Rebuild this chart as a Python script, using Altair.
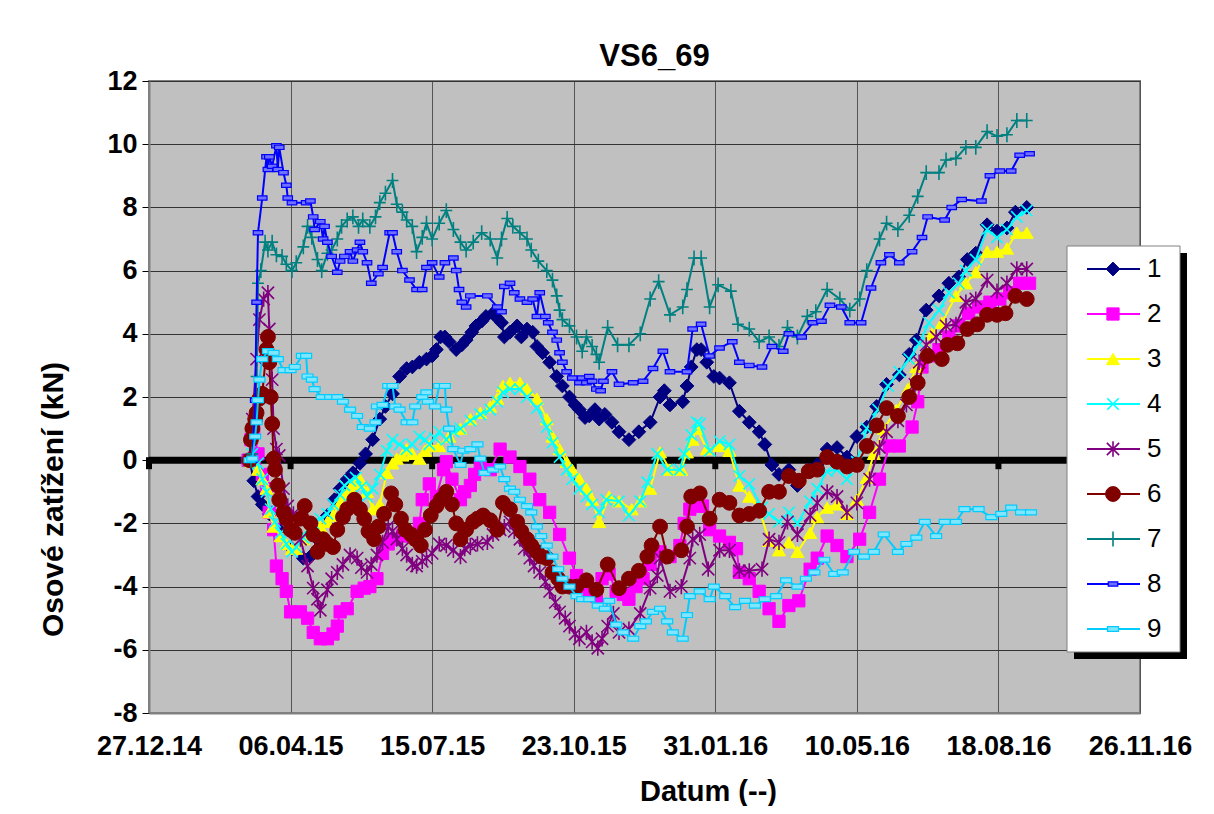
import altair as alt
import pandas as pd

FONT = "Liberation Sans"

SERIES = ["1", "2", "3", "4", "5", "6", "7", "8", "9"]
X_TICK_DAYS = [0, 100, 200, 300, 400, 500, 600, 700]          # days after 27.12.14
X_LABELS = ["27.12.14", "06.04.15", "15.07.15", "23.10.15", "31.01.16", "10.05.16", "18.08.16", "26.11.16"]
Y_TICKS = [-8, -6, -4, -2, 0, 2, 4, 6, 8, 10, 12]

# ---- series data: day = days after 27.12.2014, value in kN ----
S1_DAY = [71,74,77,80,85,92,101,109,114,119,126,131,135,140,144,149,153,158,163,167,172,177,182,186,191,196,200,203,206,209,212,217,221,224,228,231,235,238,243,246,249,251,255,260,263,267,271,274,278,283,288,292,297,301,304,308,311,315,318,322,327,332,339,346,354,361,364,368,377,380,383,387,390,394,399,403,410,417,424,431,435,440,445,452,458,466,472,479,486,493,500,507,514,521,530,537,542,549,558,565,572,578,584,592,599,606,612,620]
S1_VAL = [0,-0.65,-1.15,-1.4,-1.7,-2.2,-2.8,-3.1,-3.05,-2.5,-1.75,-1.25,-0.9,-0.6,-0.4,-0.1,0.2,0.65,1.3,1.7,2.1,2.65,2.9,2.95,3.1,3.2,3.3,3.5,3.9,3.9,3.75,3.5,3.65,3.8,4.05,4.25,4.4,4.55,4.65,4.5,4.35,3.9,4.05,4.25,3.9,4.15,4.05,3.6,3.4,3.1,2.65,2.35,2.0,1.75,1.6,1.35,1.4,1.6,1.3,1.45,1.2,0.9,0.65,0.9,1.2,2.0,2.2,1.75,1.85,2.35,2.95,3.5,3.5,3.1,2.65,2.6,2.45,1.55,1.2,0.9,0.5,-0.15,-0.45,-0.3,-0.8,-0.3,-0.15,0.35,0.4,0.1,0.75,1.05,1.7,2.4,2.7,3.35,3.8,4.75,5.2,5.6,5.8,6.35,6.55,7.45,7.25,7.35,7.85,8.0]

S2_DAY = [70,72,74,77,80,83,85,88,90,94,97,100,107,112,116,121,126,130,133,135,140,147,152,156,161,165,169,172,179,186,191,193,198,203,208,210,214,220,223,227,230,234,241,248,255,262,269,276,283,290,297,302,306,311,316,320,325,330,335,339,344,349,354,361,368,375,378,382,387,391,396,403,410,415,417,424,431,438,445,452,459,467,472,479,486,493,502,509,516,523,530,539,543,546,551,558,565,572,579,586,594,601,608,615,622]
S2_VAL = [0,0.65,0.9,0.2,-0.45,-0.9,-1.65,-2.2,-3.35,-3.75,-4.15,-4.8,-4.8,-5.0,-5.45,-5.65,-5.65,-5.5,-5.25,-4.8,-4.7,-4.15,-4.05,-4.0,-3.75,-2.95,-2.65,-2.5,-2.4,-2.4,-2.0,-1.25,-0.75,-1.15,-0.3,-0.05,-0.6,-1.25,-1.0,-0.8,-0.45,-0.2,-0.3,0.35,0.1,-0.2,-0.6,-1.25,-1.65,-2.35,-3.1,-3.65,-4.0,-4.25,-4.3,-3.75,-3.6,-4.15,-4.25,-4.4,-4.0,-3.75,-3.3,-2.9,-3.05,-2.7,-2.0,-1.55,-1.45,-1.45,-2.2,-2.4,-2.6,-2.8,-3.55,-3.75,-4.15,-4.7,-5.1,-4.6,-4.45,-3.45,-3.1,-2.4,-2.7,-3.05,-2.5,-1.65,-0.6,0.45,0.45,1.05,1.85,2.95,3.3,3.5,3.9,4.25,4.65,4.85,5.0,5.1,5.3,5.6,5.6]

S3_DAY = [71,73,77,80,83,85,88,93,97,101,104,109,112,116,121,126,130,135,138,142,145,149,154,158,163,168,172,175,179,182,186,191,195,198,205,212,220,227,234,241,246,250,255,262,267,274,281,285,290,295,299,304,309,313,318,325,332,341,347,354,361,368,376,380,384,387,394,403,410,417,424,431,438,445,452,458,467,472,479,486,493,500,507,512,519,528,536,542,549,553,560,570,577,584,592,599,606,613,620]
S3_VAL = [0,-0.05,-0.3,-0.6,-0.9,-1.65,-2.1,-2.4,-2.65,-2.8,-2.8,-2.5,-2.3,-2.2,-2.1,-1.95,-1.75,-1.35,-1.1,-0.9,-0.75,-0.6,-1.0,-1.55,-1.4,-0.4,-0.1,0.05,0.15,0.35,0.2,0.05,0.3,0.45,0.45,0.75,1.0,1.3,1.5,1.7,1.95,2.35,2.45,2.45,2.25,1.95,1.3,0.75,0.35,-0.05,-0.3,-0.6,-0.9,-1.25,-1.95,-1.15,-1.3,-1.55,-1.3,-0.9,0.25,-0.3,-0.3,0.25,0.65,1.0,0.35,0.45,0.3,-0.8,-1.15,-1.55,-2.55,-2.85,-2.6,-2.9,-2.3,-1.8,-1.5,-1.4,-1.7,-1.25,-0.55,0.2,1.0,1.6,2.25,2.95,3.45,4.0,4.35,5.2,5.6,5.95,6.6,6.6,6.7,7.2,7.2]

S4_DAY = [71,73,77,80,83,86,89,93,97,101,104,109,112,116,121,126,130,135,138,142,146,150,154,158,163,168,172,177,182,186,191,195,198,202,205,210,215,220,227,234,241,246,250,255,262,267,274,281,285,290,295,299,304,309,313,318,323,332,339,347,352,359,366,375,378,383,387,389,396,403,410,417,424,433,438,445,452,458,467,472,479,486,493,500,507,515,522,530,537,544,551,558,565,572,577,584,592,599,606,613,620]
S4_VAL = [0,0.2,-0.1,-0.6,-1.0,-1.55,-1.95,-2.3,-2.65,-2.9,-2.75,-2.45,-2.2,-2.0,-1.85,-1.7,-1.4,-1.1,-0.8,-0.65,-0.55,-0.85,-1.15,-0.9,-0.45,0.3,0.65,0.5,0.35,0.5,0.75,0.65,0.5,0.7,0.9,0.65,0.9,1.0,1.25,1.45,1.6,1.85,2.15,2.25,2.25,2.0,1.65,1.05,0.55,0.1,-0.3,-0.6,-0.9,-1.15,-1.4,-1.65,-1.25,-1.3,-1.75,-1.3,-0.7,0.2,-0.3,-0.3,0.2,0.8,1.2,1.15,0.3,0.6,0.5,-0.5,-0.75,-1.5,-1.7,-1.95,-1.65,-2.0,-1.3,-0.9,-0.35,-0.3,-0.6,-0.05,1.0,1.6,2.35,2.8,3.2,3.7,4.35,4.75,5.3,5.6,6.0,6.35,7.3,7.05,7.3,7.7,7.9]

S5_DAY = [71,73,76,78,81,84,85,87,88,90,92,95,98,102,107,112,116,119,121,126,129,133,137,142,147,150,154,157,161,165,169,172,175,179,182,186,189,193,196,200,205,210,215,220,223,227,232,239,243,248,251,255,258,262,265,269,272,276,280,283,287,290,294,297,301,304,309,313,317,320,324,328,332,339,347,354,359,361,368,376,382,384,389,395,403,410,417,424,433,438,445,451,458,467,472,479,486,493,500,509,516,521,529,535,541,544,549,556,563,570,577,584,592,599,606,613,620]
S5_VAL = [0,1.3,3.2,4.45,5.1,5.3,4.15,2.55,1.0,0.35,0.15,-0.9,-1.45,-1.7,-2.5,-3.35,-4.05,-4.4,-4.75,-4.1,-3.75,-3.55,-3.3,-3.0,-3.1,-3.4,-3.55,-3.3,-3.0,-2.6,-2.1,-2.25,-2.5,-2.8,-3.0,-3.3,-3.35,-3.2,-3.1,-2.95,-2.65,-2.7,-2.85,-3.05,-2.8,-2.7,-2.65,-2.6,-2.35,-2.2,-2.1,-1.95,-2.25,-2.5,-2.8,-3.1,-3.35,-3.55,-3.85,-4.15,-4.5,-4.8,-5.0,-5.25,-5.5,-5.65,-5.45,-5.75,-5.95,-5.65,-5.25,-4.85,-5.45,-5.35,-4.85,-4.05,-3.65,-3.1,-4.15,-4.0,-3.1,-2.5,-2.35,-3.45,-2.85,-2.85,-3.5,-3.5,-3.45,-2.5,-2.6,-1.95,-2.35,-1.75,-1.35,-1.0,-1.15,-1.65,-1.35,-0.6,0.4,0.9,1.25,1.75,2.4,3.1,3.65,3.9,4.25,4.3,5.0,5.1,5.7,5.35,5.6,6.05,6.05]

S6_DAY = [71,72,73,75,76,78,80,83,84,85,86,87,88,89,91,92,95,97,100,103,107,110,114,116,119,123,126,130,133,137,140,145,149,152,155,159,162,166,171,174,178,181,185,188,192,195,199,203,206,210,214,217,220,224,229,232,236,241,246,250,255,260,263,267,270,274,277,281,285,289,292,297,302,309,316,324,332,339,346,352,355,361,366,376,380,383,389,396,403,410,417,424,431,438,445,452,459,466,472,479,486,493,500,507,514,521,529,537,543,550,560,564,571,578,585,592,599,605,612,620]
S6_VAL = [0,0.65,1.0,1.3,1.5,1.95,2.1,3.5,3.9,3.1,2.0,1.15,0.05,-0.3,-0.8,-1.25,-1.65,-1.85,-2.2,-2.3,-1.85,-1.45,-2.0,-2.35,-2.9,-2.5,-2.65,-2.75,-2.2,-1.8,-1.55,-1.25,-1.55,-1.85,-2.25,-2.5,-2.1,-1.7,-1.05,-1.4,-1.85,-2.2,-2.35,-2.5,-2.7,-2.2,-1.75,-1.45,-1.25,-1.0,-1.4,-2.0,-2.5,-2.2,-1.95,-1.85,-1.75,-1.9,-2.2,-1.35,-1.55,-1.95,-2.25,-2.5,-2.7,-2.9,-3.05,-3.1,-3.55,-3.75,-4.0,-4.0,-4.0,-3.8,-4.1,-3.3,-4.05,-3.75,-3.5,-3.05,-2.7,-2.1,-3.05,-2.85,-2.1,-1.15,-1.05,-1.85,-1.25,-1.35,-1.75,-1.7,-1.6,-1.0,-1.0,-0.5,-0.65,-0.35,-0.3,0.1,-0.05,-0.2,-0.15,0.45,1.1,1.65,1.4,2.0,2.45,3.3,3.2,3.65,3.7,4.15,4.3,4.6,4.6,4.65,5.2,5.1]

S7_DAY = [72,73,76,77,79,82,84,87,90,94,97,101,104,109,112,115,119,122,126,129,133,136,140,144,148,151,156,160,163,167,172,175,179,182,186,189,193,196,200,205,210,215,220,224,229,235,241,246,249,253,257,262,267,270,275,281,285,288,290,292,297,302,306,309,313,316,318,324,331,339,347,354,360,368,377,380,385,390,396,402,411,416,424,431,438,445,451,458,465,471,479,488,495,502,507,516,521,529,537,543,549,558,563,570,577,584,592,599,606,613,620]
S7_VAL = [0,0.2,2.65,5.6,6.0,6.9,6.65,6.9,6.5,6.45,6.2,6.0,6.25,6.75,7.4,7.05,6.35,6.0,6.55,6.65,7.0,7.4,7.6,7.7,7.4,7.6,7.4,7.7,8.15,8.45,8.85,8.1,7.85,7.6,7.4,6.6,7.05,7.5,7.0,7.5,7.9,7.3,6.9,6.65,6.9,7.2,7.0,6.4,7.0,7.65,7.4,7.2,7.0,6.65,6.3,6.0,5.7,5.2,4.75,4.45,4.25,3.9,3.45,3.9,3.6,3.35,3.1,4.2,3.65,3.65,4.0,5.1,5.65,4.6,4.85,5.4,6.4,6.4,4.85,5.55,5.35,4.3,4.15,3.75,3.9,3.6,4.2,3.9,4.55,4.7,5.4,5.1,4.75,5.1,6.0,7.0,7.5,7.3,7.75,8.35,9.1,9.1,9.5,9.55,9.9,9.9,10.4,10.25,10.3,10.75,10.75]

S8_DAY = [73,75,76,77,80,83,84,85,87,90,91,92,95,97,98,101,111,114,116,117,121,123,124,126,129,133,135,138,142,144,147,149,151,154,157,162,165,170,172,175,179,184,189,193,196,200,205,209,215,217,219,221,224,227,239,246,249,251,255,258,262,267,271,274,276,280,282,285,288,290,292,295,299,304,306,309,311,313,316,319,321,327,332,342,349,356,363,368,380,384,390,396,403,412,417,424,433,440,448,452,461,469,475,481,489,495,503,510,517,523,530,539,546,550,562,567,574,588,594,601,609,615,622]
S8_VAL = [0,1.9,5.0,7.2,8.3,9.6,9.2,9.6,9.3,9.95,9.2,9.9,9.1,8.7,8.3,8.15,8.15,8.2,7.7,7.3,7.55,7.0,7.4,6.9,6.45,5.95,6.3,6.45,6.6,6.3,6.65,6.9,6.6,6.25,5.6,5.9,6.1,7.2,7.2,6.6,6.0,5.7,5.4,5.4,6.1,6.25,5.8,6.25,6.4,6.0,5.4,5.0,4.85,5.2,5.2,4.85,4.7,5.5,5.6,5.3,5.1,5.0,5.1,4.55,5.3,4.55,4.35,4.05,3.8,3.4,3.1,2.8,2.6,2.45,2.6,2.45,2.65,2.5,2.25,2.2,2.5,2.8,2.4,2.45,2.5,2.9,3.45,2.8,2.8,4.15,4.3,3.3,3.55,3.75,3.1,3.0,2.95,3.6,3.45,4.0,3.9,4.35,4.4,4.9,4.85,4.35,4.35,5.45,6.25,6.5,6.25,6.6,7.05,7.7,7.6,8.0,8.25,8.2,9.0,9.15,9.15,9.65,9.7]

S9_DAY = [71,73,75,76,77,78,80,84,88,91,95,100,103,108,111,112,115,117,122,128,133,137,142,147,151,156,160,161,165,169,172,174,177,182,186,188,193,196,197,202,205,209,210,212,215,220,222,227,232,234,237,243,248,251,255,258,262,267,270,274,277,281,285,289,292,297,302,306,311,317,322,325,330,335,342,347,351,356,361,366,370,377,380,382,389,396,399,407,414,421,428,435,443,450,458,464,470,477,484,490,498,505,512,519,529,535,542,548,556,562,570,576,586,595,602,609,616,623]
S9_VAL = [0,0.05,0.75,1.2,1.9,2.55,3.2,3.45,3.4,3.2,2.85,2.85,2.95,3.3,3.3,2.65,2.55,2.25,2.0,2.0,2.0,1.85,1.6,1.4,1.05,1.0,1.2,1.7,1.75,2.35,2.35,1.7,1.6,1.2,1.2,1.7,2.0,2.15,1.85,1.7,2.35,2.35,1.6,1.0,0.35,-0.15,0.3,0.35,0.5,0.05,-0.4,-0.3,-0.2,-0.6,-0.9,-1.0,-1.25,-1.45,-1.65,-2.1,-2.4,-2.7,-3.05,-3.45,-3.75,-4.0,-4.3,-4.4,-4.4,-4.6,-4.7,-4.45,-5.2,-5.45,-5.65,-5.25,-5.1,-4.8,-4.7,-5.1,-5.45,-5.65,-4.9,-4.3,-4.15,-4.4,-4.0,-4.3,-4.65,-4.45,-4.6,-4.4,-4.3,-3.8,-4.0,-3.75,-3.55,-3.15,-3.6,-3.55,-2.9,-3.05,-2.9,-2.35,-2.9,-2.65,-2.45,-1.95,-2.4,-1.95,-1.95,-1.55,-1.55,-1.8,-1.7,-1.5,-1.65,-1.65]

DAYS = [S1_DAY, S2_DAY, S3_DAY, S4_DAY, S5_DAY, S6_DAY, S7_DAY, S8_DAY, S9_DAY]
VALS = [S1_VAL, S2_VAL, S3_VAL, S4_VAL, S5_VAL, S6_VAL, S7_VAL, S8_VAL, S9_VAL]

# ---- styles ----
LINE_COLORS = ["#000080", "#FF00FF", "#FFFF00", "#00FFFF", "#800080", "#800000", "#008080", "#0000FF", "#00CCFF"]
FILL_COLORS = ["#000080", "#FF00FF", "#FFFF00", "transparent", "transparent", "#800000", "transparent", "#7070FF", "#80E6FF"]
DASH = "M-1,-0.45L1,-0.45L1,0.45L-1,0.45Z"
SHAPES = ["diamond", "square", "triangle-up",
          "M-1,-1L1,1M-1,1L1,-1",
          "M-1,-1L1,1M-1,1L1,-1M0,-1.25L0,1.25",
          "circle",
          "M-0.8,0L0.8,0M0,-1L0,1",
          DASH, DASH]
SIZES = [190, 150, 170, 130, 150, 220, 220, 90, 120]
STROKE_W = [1, 1, 1, 1.6, 1.6, 1, 1.6, 1.2, 1.2]

X_SCALE = alt.Scale(domain=[0, 700], nice=False, zero=False)
Y_SCALE = alt.Scale(domain=[-8, 12], nice=False, zero=False)

label_list = "[" + ",".join("'%s'" % s for s in X_LABELS) + "]"
tick_list = "[" + ",".join(str(d) for d in X_TICK_DAYS) + "]"

X_AXIS = alt.Axis(values=X_TICK_DAYS, labelExpr=label_list + "[indexof(" + tick_list + ", datum.value)]",
                  title="Datum (--)", grid=True, gridColor="#555555", gridWidth=1, ticks=False,
                  domainColor="#808080", domainWidth=2, labelPadding=20, labelFontSize=27,
                  labelFlush=False, labelOverlap=False,
                  titleFontSize=29, titleX=559, titleY=87, titleBaseline="alphabetic", titleAlign="center")
Y_AXIS = alt.Axis(values=Y_TICKS, labelExpr="'' + datum.value", title="Osové zatížení (kN)",
                  grid=True, gridColor="#333333", gridWidth=1, tickSize=7, tickColor="black",
                  domainColor="#808080", domainWidth=2, labelPadding=5, labelFontSize=27,
                  labelFlush=False, labelOverlap=False,
                  titleFontSize=30, titleX=-96, titleY=418, titleBaseline="middle", titleAlign="center")

X_ENC = alt.X("day:Q", scale=X_SCALE, axis=X_AXIS)
Y_ENC = alt.Y("v:Q", scale=Y_SCALE, axis=Y_AXIS)

layers = []
zero_df = pd.DataFrame({"v": [0]})
layers.append(alt.Chart(zero_df).mark_rule(color="black", strokeWidth=7).encode(y=Y_ENC))
nub_df = pd.DataFrame({"day": X_TICK_DAYS, "v": [0] * len(X_TICK_DAYS)})
layers.append(alt.Chart(nub_df).mark_tick(color="black", orient="vertical", size=12, thickness=6,
                                          yOffset=3, opacity=1).encode(x=X_ENC, y=Y_ENC))

for k, name in enumerate(SERIES):
    d, v = DAYS[k], VALS[k]
    assert len(d) == len(v), (name, len(d), len(v))
    df = pd.DataFrame({"day": d, "v": v, "i": list(range(len(d)))})
    layers.append(alt.Chart(df).mark_line(color=LINE_COLORS[k], strokeWidth=2).encode(
        x=X_ENC, y=Y_ENC, order=alt.Order("i:Q")))
    layers.append(alt.Chart(df).mark_point(shape=SHAPES[k], size=SIZES[k], fill=FILL_COLORS[k],
                                           stroke=LINE_COLORS[k], strokeWidth=STROKE_W[k],
                                           opacity=1, fillOpacity=1, strokeOpacity=1).encode(
        x=X_ENC, y=Y_ENC))

main = alt.layer(*layers)

# ---- legend (drawn inside the plot, Excel style) ----
leg_df = pd.DataFrame({"s": SERIES, "col": LINE_COLORS, "fillc": FILL_COLORS, "shp": SHAPES,
                       "sz": SIZES, "sw": STROKE_W})
one = pd.DataFrame({"a": [0]})
LEG_Y = alt.Y("s:N", scale=alt.Scale(type="point", domain=SERIES, range=[188, 548], padding=0), axis=None)

shadow = alt.Chart(one).mark_rect(color="black").encode(
    x=alt.value(925), x2=alt.value(1038), y=alt.value(172), y2=alt.value(578))
box = alt.Chart(one).mark_rect(fill="white", stroke="#808080", strokeWidth=1).encode(
    x=alt.value(918), x2=alt.value(1031), y=alt.value(165), y2=alt.value(571))
leg_lines = alt.Chart(leg_df).mark_rule(strokeWidth=2).encode(
    x=alt.value(938), x2=alt.value(991), y=LEG_Y, color=alt.Color("col:N", scale=None))
leg_pts = alt.Chart(leg_df).mark_point(opacity=1, fillOpacity=1).encode(
    x=alt.value(964), y=LEG_Y,
    shape=alt.Shape("shp:N", scale=None), size=alt.Size("sz:Q", scale=None),
    stroke=alt.Stroke("col:N", scale=None), fill=alt.Fill("fillc:N", scale=None),
    strokeWidth=alt.StrokeWidth("sw:Q", scale=None))
leg_text = alt.Chart(leg_df).mark_text(align="left", baseline="middle", font=FONT, fontSize=26,
                                       color="black").encode(x=alt.value(998), y=LEG_Y, text="s:N")
legend = alt.layer(shadow, box, leg_lines, leg_pts, leg_text)

chart = alt.layer(main, legend).resolve_scale(y="independent").properties(
    width=991, height=632,
    autosize=alt.AutoSizeParams(type="none"),
    padding={"left": 141, "top": 73, "right": 66, "bottom": 93},
    title=alt.TitleParams("VS6_69", font=FONT, fontSize=31, fontWeight="bold", anchor="middle",
                          dx=10, dy=18, offset=12, color="black"),
).configure(font=FONT).configure_view(
    fill="#C0C0C0", stroke="#808080", strokeWidth=2
).configure_axis(
    labelFont=FONT, titleFont=FONT, labelFontWeight="bold", titleFontWeight="bold",
    labelColor="black", titleColor="black"
)

chart.save("out.html", embed_options={"renderer": "svg", "actions": False})
